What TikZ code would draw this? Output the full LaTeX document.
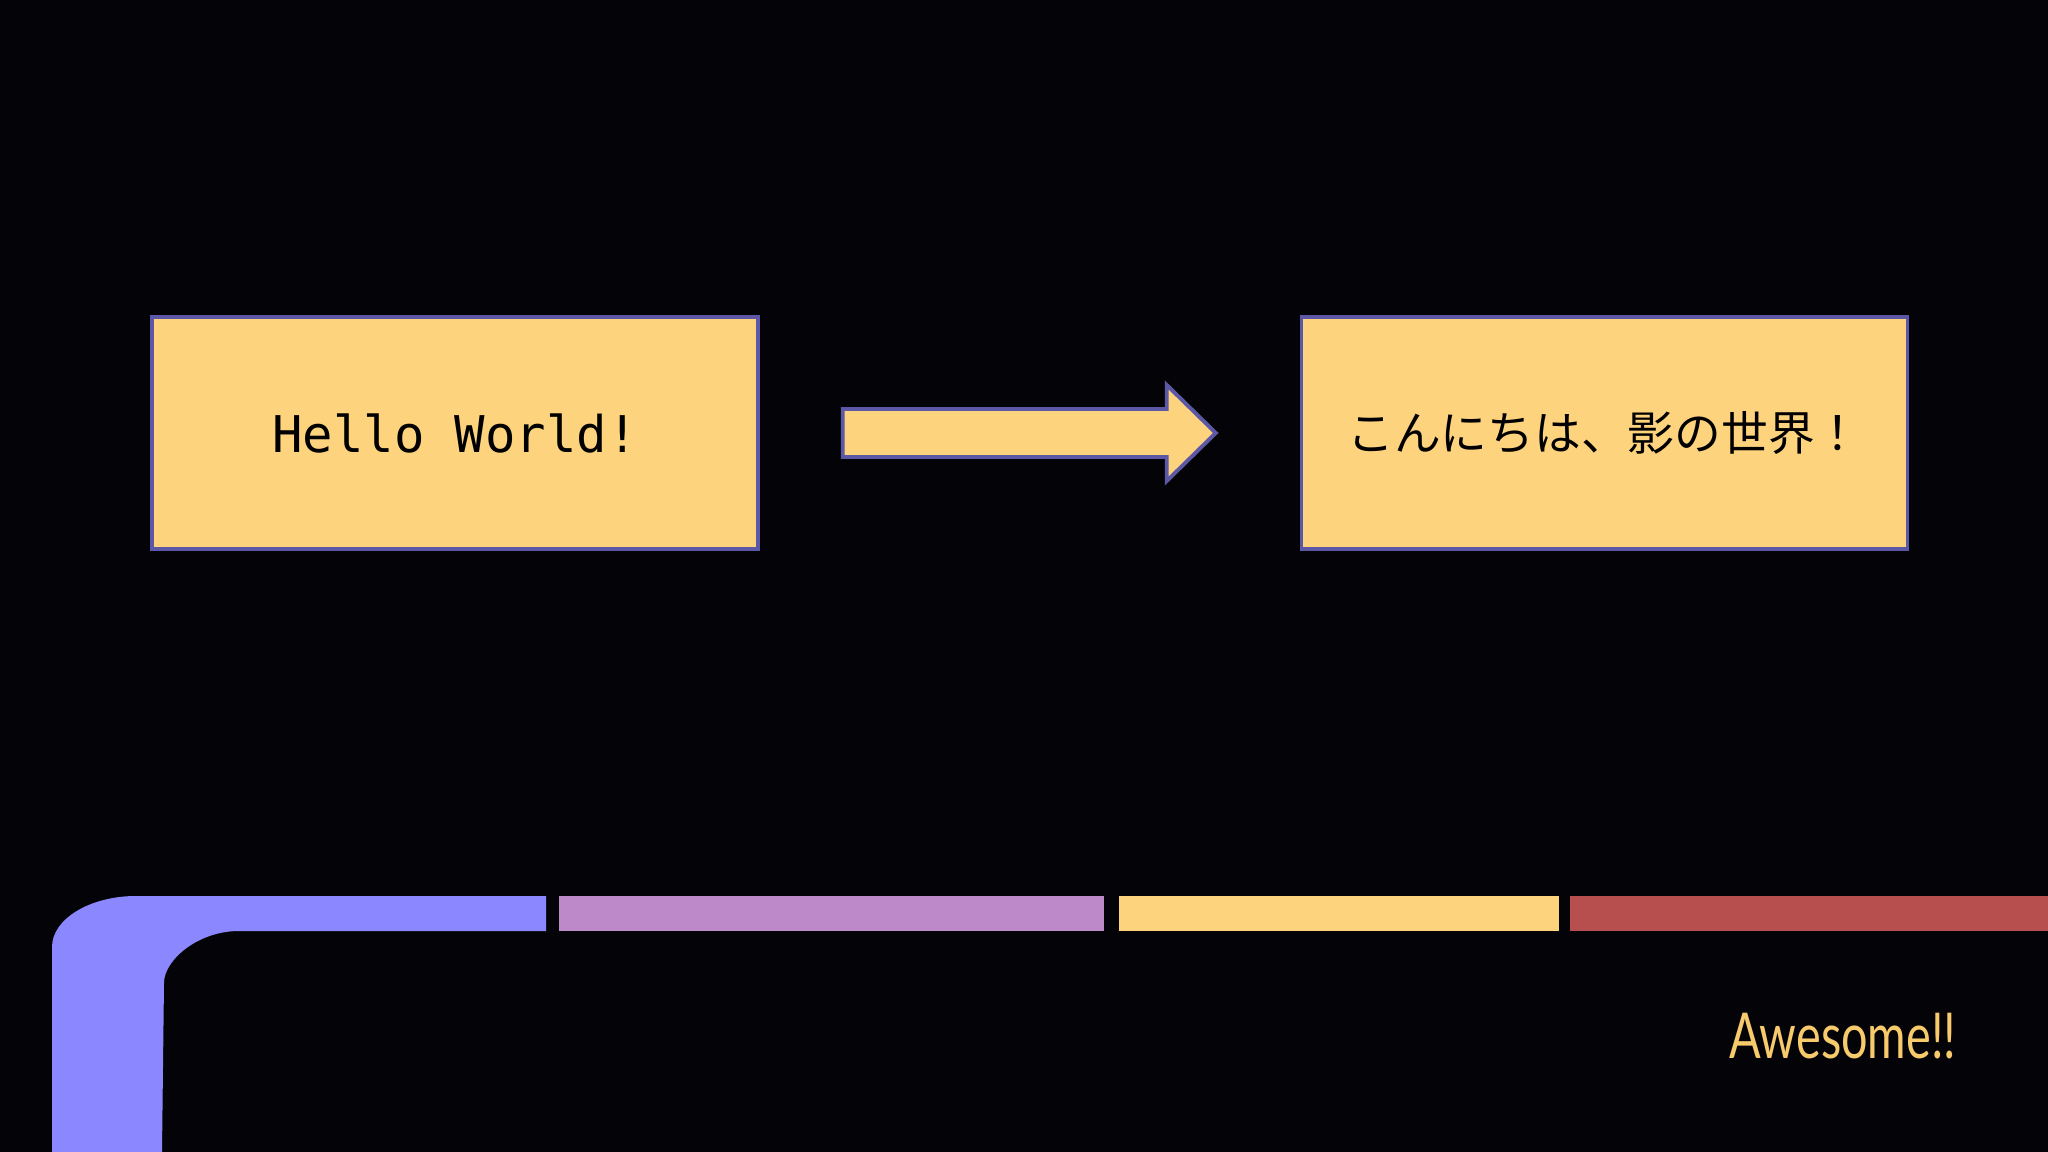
\documentclass[tikz,border=0pt]{standalone}
\usepackage{fontspec}
\setmonofont{DejaVu Sans Mono}
\newfontfamily\jpfont{Noto Sans CJK JP}
\newfontfamily\decofont{Lato}
\usepackage{xcolor}
\usepackage{tikz}
\usetikzlibrary{
  shapes.geometric,
  arrows.meta,
  positioning,
  backgrounds
}
\definecolor{NightInk}{RGB}{4, 4, 8}
\definecolor{BoxFill}{RGB}{253, 211, 126}
\definecolor{BoxBorder}{RGB}{92, 88, 166}
\definecolor{Lavender}{RGB}{139, 135, 255}
\definecolor{Orchid}{RGB}{190, 137, 201}
\definecolor{Brick}{RGB}{184, 79, 79}
\definecolor{Gold}{RGB}{247, 202, 108}
\tikzset{
    greetbox/.style={
        rectangle, draw=BoxBorder, fill=BoxFill, line width=1pt,
        minimum width=6.06cm, minimum height=2.32cm, inner sep=0pt,
        text=black, align=center
    },
    bigarrow/.style={draw=BoxBorder, fill=BoxFill, line width=1.1pt},
    stripe/.style={draw=none}
}

\begin{document}
\begin{tikzpicture}
            \fill[NightInk] (0,0) rectangle (20.48,-11.52);
            \useasboundingbox (0,0) rectangle (20.48,-11.52);

            \node[greetbox, font=\ttfamily\fontsize{14.4pt}{17pt}\selectfont] (hello) at (4.55,-4.33) {Hello World!};
            \node[greetbox, right=5.40cm of hello, font=\jpfont\fontsize{13.3pt}{16pt}\selectfont] (shadow) {こんにちは、影の世界！};

            \coordinate (tail) at ([xshift=0.83cm]hello.east);
            \coordinate (tip) at ([xshift=-0.84cm]shadow.west);
            \draw[bigarrow] ([yshift=0.24cm]tail) -- ([xshift=-0.49cm, yshift=0.24cm]tip)
                -- ([xshift=-0.49cm, yshift=0.48cm]tip) -- (tip)
                -- ([xshift=-0.49cm, yshift=-0.48cm]tip) -- ([xshift=-0.49cm, yshift=-0.24cm]tip)
                -- ([yshift=-0.24cm]tail) -- cycle;

            \fill[Lavender] (0.52,-11.52) -- (0.52,-9.47)
                .. controls (0.52,-9.19) and (0.90,-8.96) .. (1.36,-8.96)
                -- (5.46,-8.96) -- (5.46,-9.31) -- (2.39,-9.31)
                .. controls (1.98,-9.31) and (1.64,-9.60) .. (1.64,-9.83)
                -- (1.62,-11.52) -- cycle;
            \fill[Orchid] (5.59,-8.96) rectangle (11.04,-9.31);
            \fill[BoxFill] (11.19,-8.96) rectangle (15.59,-9.31);
            \fill[Brick] (15.70,-8.96) rectangle (20.48,-9.31);

            \node[text=Gold, font=\decofont\fontsize{18pt}{20pt}\selectfont, xscale=0.74, inner sep=0pt] (awesome) at (18.43,-10.36) {Awesome!!};
        \end{tikzpicture}
\end{document}
